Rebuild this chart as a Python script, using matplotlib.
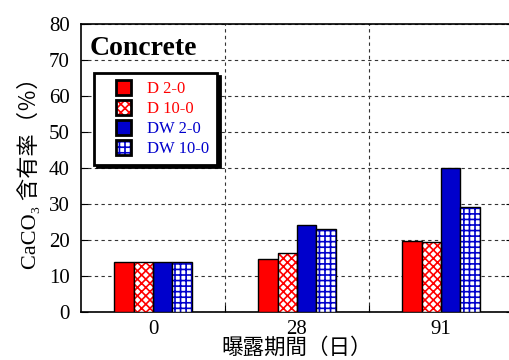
import matplotlib.pyplot as plt
from matplotlib.patches import Patch, Rectangle
from matplotlib.legend_handler import HandlerTuple, HandlerPatch

plt.rcParams['font.family'] = ['Liberation Serif', 'Noto Sans CJK JP']
plt.rcParams['hatch.linewidth'] = 1.2

# data
dias = ['0', '28', '91']
series = ['D 2-0', 'D 10-0', 'DW 2-0', 'DW 10-0']
d2 = [13.8, 14.8, 19.7]
d10 = [13.8, 16.3, 19.4]
dw2 = [13.8, 24.2, 40.1]
dw10 = [13.8, 23.0, 29.2]
valores = [d2, d10, dw2, dw10]
colores = ['#ff0000', '#ff0000', '#0000cc', '#0000cc']
tramas = [None, 'xxxx', None, '+++']

fig = plt.figure(figsize=(5.1, 3.6), dpi=100)
ax = fig.add_axes([81/510, 48/360, 432/510, 288/360])

ancho = 0.135
x = range(len(dias))
handles = []
for i, vals in enumerate(valores):
    pos = [xi + (i - 1.5) * ancho for xi in x]
    if tramas[i] is None:
        ax.bar(pos, vals, ancho, color=colores[i], edgecolor='black', lw=1, zorder=3)
        h = Patch(facecolor=colores[i], edgecolor='black', lw=2)
    else:
        ax.bar(pos, vals, ancho, color='white', edgecolor=colores[i], hatch=tramas[i], lw=0, zorder=3)
        ax.bar(pos, vals, ancho, fill=False, edgecolor='black', lw=1, zorder=4)
        h = (Patch(facecolor='white', edgecolor=colores[i], hatch=tramas[i], lw=0),
             Patch(fill=False, edgecolor='black', lw=2))
    handles.append(h)


def cuadro(legend, orig_handle, xdescent, ydescent, width, height, fontsize):
    # cuadrado pegado a la derecha de la caja del handle
    return Rectangle((-xdescent + width - height, -ydescent), height, height)


ax.set_xlim(-0.5, 2.5)
ax.set_ylim(0, 80)
ax.set_yticks(range(0, 81, 10))
ax.set_xticks([0.5, 1.5])
ax.set_xticklabels([])
ax.set_xticks(list(x), minor=True)
ax.set_xticklabels(dias, minor=True)
ax.tick_params(axis='x', which='minor', length=0, labelsize=15, pad=6)
ax.tick_params(axis='x', which='major', direction='in', length=5)
ax.tick_params(axis='y', direction='in', length=5, right=True, labelsize=15, pad=8)
ax.grid(True, which='major', color='#333333', ls=(0, (3, 3)), lw=0.8, zorder=0)
for s in ax.spines.values():
    s.set_linewidth(1.2)

ax.set_xlabel('曝露期間（日）', fontsize=15.5, labelpad=-1)
ax.set_ylabel('CaCO₃ 含有率（％）', fontsize=16, labelpad=6)

ax.text(0.02, 0.915, 'Concrete', transform=ax.transAxes, fontsize=20,
        fontweight='bold', va='center', ha='left', zorder=6)

leg = ax.legend(handles, series,
                handler_map={Patch: HandlerPatch(patch_func=cuadro),
                             tuple: HandlerTuple(ndivide=1)},
                loc='upper left', bbox_to_anchor=(0.03, 0.83), fontsize=12,
                fancybox=False, edgecolor='black', framealpha=1,
                shadow={'color': 'black', 'alpha': 1}, handlelength=1.75,
                handleheight=0.95, handletextpad=1.0, labelspacing=0.18,
                borderpad=0.45, borderaxespad=0)
leg.get_frame().set_linewidth(2)
leg.set_zorder(7)
for t, c in zip(leg.get_texts(), colores):
    t.set_color(c)

fig.savefig('out.png', dpi=100)
